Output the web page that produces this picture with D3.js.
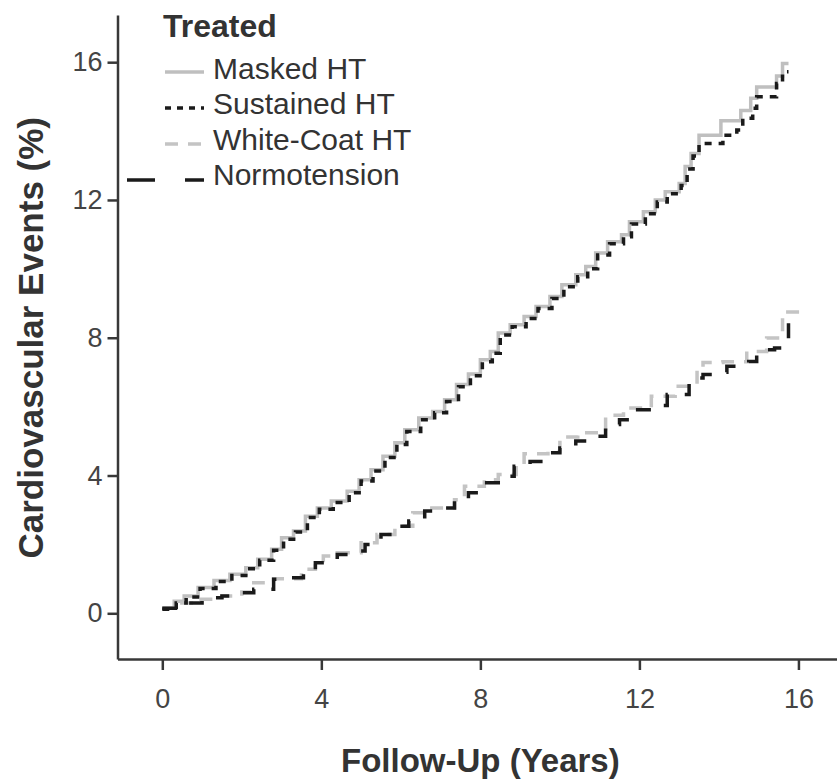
<!DOCTYPE html>
<html>
<head>
	<meta charset="UTF-8">
	<title>Cardiovascular Events</title>
	<style>
		body { margin: 0; background: #fff; }
		text { font-family: "Liberation Sans", Arial, Helvetica, sans-serif; }
		.axis path, .axis line { stroke: #383838; stroke-width: 2.5; }
		.axis text { fill: #444; font-size: 27px; }
		.title { font-weight: bold; fill: #333; }
	</style>
</head>
<body>
<script src="https://d3js.org/d3.v7.min.js"></script>
<script type="text/javascript">

'use strict';

// legend / series names
var seriesNames = ["Masked HT", "Sustained HT", "White-Coat HT", "Normotension"];
var legendTitle = "Treated";
var xTicks = [0, 4, 8, 12, 16];
var yTicks = [0, 4, 8, 12, 16];

// Kaplan-Meier steps: follow-up years and cumulative %
var maskedYears = [0, 0.3, 0.55, 0.9, 1.3, 1.7, 2.1, 2.4, 2.75, 3.0, 3.3, 3.6, 3.9, 4.25, 4.65, 4.95, 5.25, 5.55, 5.85, 6.1, 6.45, 6.8, 7.1, 7.4, 7.7, 8.0, 8.25, 8.45, 8.75, 9.1, 9.4, 9.75, 10.05, 10.4, 10.65, 10.9, 11.2, 11.55, 11.75, 12.1, 12.4, 12.65, 13.0, 13.15, 13.3, 13.5, 14.05, 14.55, 14.8, 14.95, 15.45, 15.6, 15.75];
var maskedPct   = [0.15, 0.35, 0.5, 0.75, 0.95, 1.13, 1.32, 1.57, 1.86, 2.19, 2.39, 2.82, 3.06, 3.26, 3.54, 3.88, 4.17, 4.56, 4.95, 5.33, 5.67, 5.86, 6.2, 6.64, 6.95, 7.36, 7.6, 8.14, 8.38, 8.62, 8.91, 9.2, 9.54, 9.83, 10.07, 10.46, 10.79, 10.99, 11.37, 11.66, 12.0, 12.24, 12.48, 12.97, 13.35, 13.88, 14.3, 14.6, 14.95, 15.28, 15.6, 15.96, 15.96];

var sustainedYears = [0, 0.35, 0.6, 0.95, 1.35, 1.75, 2.15, 2.45, 2.8, 3.05, 3.35, 3.65, 3.95, 4.3, 4.7, 5.0, 5.3, 5.6, 5.9, 6.15, 6.5, 6.85, 7.15, 7.45, 7.75, 8.05, 8.3, 8.5, 8.8, 9.15, 9.45, 9.8, 10.1, 10.45, 10.7, 10.95, 11.25, 11.6, 11.8, 12.15, 12.45, 12.7, 13.05, 13.2, 13.35, 13.5, 14.1, 14.45, 14.6, 14.85, 14.95, 15.45, 15.6, 15.75];
var sustainedPct   = [0.12, 0.3, 0.47, 0.72, 0.92, 1.1, 1.29, 1.54, 1.83, 2.15, 2.36, 2.78, 3.02, 3.22, 3.5, 3.84, 4.13, 4.52, 4.9, 5.28, 5.62, 5.82, 6.15, 6.58, 6.9, 7.3, 7.55, 8.08, 8.32, 8.56, 8.85, 9.14, 9.48, 9.77, 10.0, 10.4, 10.73, 10.93, 11.3, 11.6, 11.94, 12.18, 12.42, 12.9, 13.28, 13.64, 13.88, 14.03, 14.37, 14.66, 15.0, 15.38, 15.72, 15.72];

var whiteCoatYears = [0, 0.4, 0.8, 1.5, 2.0, 2.3, 2.8, 3.5, 3.85, 4.05, 4.4, 5.0, 5.4, 5.85, 6.3, 6.65, 7.35, 7.6, 8.1, 8.45, 8.9, 9.1, 9.7, 10.0, 10.45, 11.15, 11.6, 12.3, 12.9, 13.45, 13.6, 14.1, 14.7, 15.2, 15.6, 16.05];
var whiteCoatPct   = [0.15, 0.3, 0.41, 0.5, 0.62, 0.89, 1.0, 1.28, 1.47, 1.66, 1.76, 2.05, 2.29, 2.53, 2.92, 3.06, 3.3, 3.69, 3.88, 4.03, 4.3, 4.63, 4.7, 5.12, 5.24, 5.75, 5.96, 6.3, 6.59, 7.1, 7.28, 7.3, 7.6, 7.99, 8.75, 8.8];

var normoYears = [0, 0.5, 1.0, 1.5, 1.95, 2.3, 2.8, 3.1, 3.55, 3.85, 4.4, 4.7, 5.1, 5.5, 5.85, 6.2, 6.6, 7.0, 7.35, 7.7, 8.1, 8.45, 8.85, 9.25, 9.65, 10.0, 10.4, 10.75, 11.15, 11.5, 11.9, 12.3, 12.7, 13.25, 13.6, 14.05, 14.2, 14.75, 14.95, 15.4, 15.65, 15.75, 16.05];
var normoPct   = [0.15, 0.3, 0.45, 0.5, 0.6, 0.7, 0.99, 1.03, 1.28, 1.47, 1.71, 1.81, 2.0, 2.29, 2.53, 2.68, 2.97, 3.06, 3.3, 3.5, 3.79, 3.98, 4.27, 4.41, 4.66, 4.8, 5.0, 5.14, 5.48, 5.62, 5.91, 6.03, 6.35, 6.83, 6.93, 7.0, 7.17, 7.31, 7.65, 7.7, 7.94, 8.55, 8.55];

var styles = [
	{ color: "#bfbfbf", dash: null, key: null },
	{ color: "#1a1a1a", dash: "7,7", key: "6,6" },
	{ color: "#c4c4c4", dash: "13,10", key: "13,10" },
	{ color: "#1a1a1a", dash: "15,17", key: "28,30" }
];

var series = [
	d3.zip(maskedYears, maskedPct),
	d3.zip(sustainedYears, sustainedPct),
	d3.zip(whiteCoatYears, whiteCoatPct),
	d3.zip(normoYears, normoPct)
];

var width = 837, height = 782;
var svg = d3.select("body").append("svg")
	.attr("width", width)
	.attr("height", height);

var x = d3.scaleLinear().domain([-1.127, 16.97]).range([117.5, 837]);
var y = d3.scaleLinear().domain([-1.327, 17.37]).range([659, 15]);

var line = d3.line()
	.curve(d3.curveStepAfter)
	.x(function(d){ return x(d[0]); })
	.y(function(d){ return y(d[1]); });

// draw gray curves first, black on top
[0, 2, 1, 3].forEach(function(i){
	svg.append("path")
		.datum(series[i])
		.attr("d", line)
		.attr("fill", "none")
		.attr("stroke", styles[i].color)
		.attr("stroke-width", 3.5)
		.attr("stroke-dasharray", styles[i].dash);
});

// axes
svg.append("g")
	.attr("class", "axis")
	.attr("transform", "translate(0," + y.range()[0] + ")")
	.call(d3.axisBottom(x).tickValues(xTicks).tickSize(11).tickSizeOuter(0).tickPadding(19))
	.selectAll("text").attr("dy", "0.71em");

svg.append("g")
	.attr("class", "axis")
	.attr("transform", "translate(" + x.range()[0] + ",0)")
	.call(d3.axisLeft(y).tickValues(yTicks).tickSize(10).tickSizeOuter(0).tickPadding(5));

svg.selectAll(".axis text").attr("font-family", null);

svg.append("text")
	.attr("class", "title")
	.attr("x", x(8))
	.attr("y", 772)
	.attr("text-anchor", "middle")
	.attr("font-size", "33px")
	.text("Follow-Up (Years)");

svg.append("text")
	.attr("class", "title")
	.attr("transform", "translate(43," + y(8) + ") rotate(-90)")
	.attr("text-anchor", "middle")
	.attr("font-size", "35px")
	.text("Cardiovascular Events (%)");

// legend
var legend = svg.append("g");
legend.append("text")
	.attr("x", 163)
	.attr("y", 37)
	.attr("font-weight", "bold")
	.attr("font-size", "32px")
	.attr("fill", "#333")
	.text(legendTitle);

var item = legend.selectAll(".item")
	.data(seriesNames)
	.enter().append("g")
		.attr("class", "item");

item.append("line")
	.attr("x1", function(d, i){ return i === 3 ? 127 : 165; })
	.attr("x2", 204)
	.attr("y1", function(d, i){ return 72 + i * 36; })
	.attr("y2", function(d, i){ return 72 + i * 36; })
	.attr("stroke", function(d, i){ return styles[i].color; })
	.attr("stroke-width", 3.5)
	.attr("stroke-dasharray", function(d, i){ return styles[i].key; });

item.append("text")
	.attr("x", 213)
	.attr("y", function(d, i){ return 68 + i * 35.5; })
	.attr("dy", "0.36em")
	.attr("font-size", "30px")
	.attr("fill", "#333")
	.text(function(d){ return d; });

</script>
</body>
</html>
